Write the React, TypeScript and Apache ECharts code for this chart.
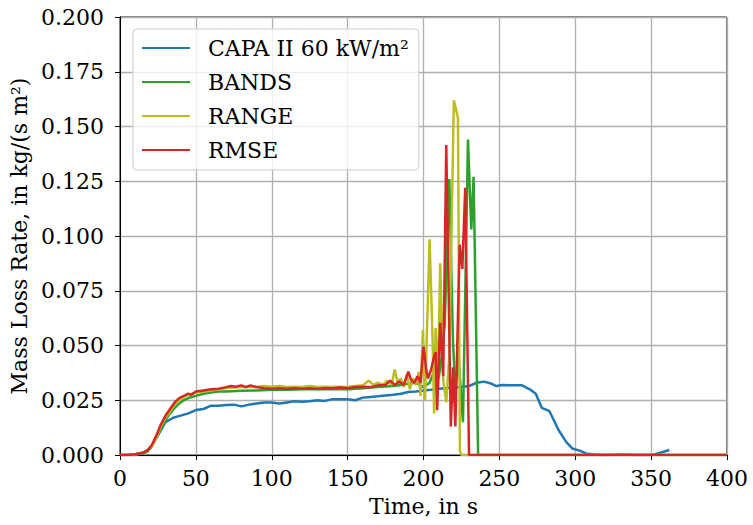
import React, { useEffect, useRef } from "react";
import * as echarts from "echarts";

const seriesNames = ["CAPA II 60 kW/m²", "BANDS", "RANGE", "RMSE"];
const seriesColors = ["#1f77b4", "#2ca02c", "#bcbd22", "#d62728"];

const xTicks = [0, 50, 100, 150, 200, 250, 300, 350, 400];
const yTicks = [0, 0.025, 0.05, 0.075, 0.1, 0.125, 0.15, 0.175, 0.2];

const capaData: [number, number][] = [
  [0, 0], [5, 0], [10, 0], [15, 0.001], [20, 0.003], [25, 0.009], [30, 0.015], [35, 0.017],
  [40, 0.018], [45, 0.019], [50, 0.0205], [55, 0.021], [60, 0.0225], [65, 0.0225], [70, 0.0228],
  [75, 0.023], [80, 0.0222], [85, 0.023], [90, 0.0235], [95, 0.024], [100, 0.024], [105, 0.0235],
  [110, 0.024], [115, 0.0245], [120, 0.0243], [125, 0.0245], [130, 0.025], [135, 0.0247],
  [140, 0.0255], [145, 0.0255], [150, 0.0255], [155, 0.025], [160, 0.0262], [165, 0.0265],
  [170, 0.0268], [175, 0.0272], [180, 0.0275], [185, 0.028], [190, 0.0288], [195, 0.029],
  [200, 0.0295], [205, 0.0298], [210, 0.0302], [215, 0.0305], [220, 0.0308], [225, 0.031],
  [230, 0.0315], [235, 0.033], [240, 0.0335], [245, 0.0325], [248, 0.0315], [252, 0.032],
  [258, 0.0318], [265, 0.0318], [270, 0.030], [274, 0.028], [278, 0.0215], [283, 0.020],
  [289, 0.0114], [294, 0.006], [298, 0.003], [303, 0.002], [307, 0.0007], [312, 0.0002],
  [320, 0], [330, 0.0002], [340, 0], [351, 0], [356, 0.001], [362, 0.0023]
];

const bandsData: [number, number][] = [
  [0, 0], [5, 0], [10, 0.0003], [15, 0.0008], [18, 0.0015], [21, 0.004], [24, 0.008], [27, 0.012],
  [30, 0.016], [33, 0.019], [36, 0.0215], [39, 0.0235], [42, 0.025], [45, 0.026], [50, 0.027],
  [55, 0.028], [60, 0.0285], [65, 0.029], [70, 0.029], [80, 0.0293], [90, 0.0295], [100, 0.0298],
  [110, 0.0298], [120, 0.030], [130, 0.030], [140, 0.030], [150, 0.030], [160, 0.0305],
  [170, 0.031], [180, 0.0315], [185, 0.032], [190, 0.0325], [195, 0.033], [200, 0.031],
  [202, 0.032], [204, 0.033], [207, 0.038], [208.4, 0.045], [210, 0.035], [212, 0.045],
  [214, 0.06], [217, 0.126], [219.4, 0.052], [221, 0.03], [223, 0.045], [226, 0.015],
  [229.3, 0.144], [231.5, 0.103], [233, 0.127], [236, 0], [400, 0]
];

const rangeData: [number, number][] = [
  [0, 0], [5, 0], [10, 0.0003], [15, 0.001], [18, 0.002], [21, 0.004], [24, 0.008], [27, 0.013],
  [30, 0.017], [33, 0.020], [36, 0.023], [39, 0.025], [42, 0.0265], [45, 0.0275], [50, 0.0285],
  [55, 0.029], [60, 0.0295], [65, 0.030], [70, 0.0305], [75, 0.0308], [80, 0.031], [85, 0.0312],
  [90, 0.031], [95, 0.0315], [100, 0.0312], [105, 0.0315], [110, 0.031], [115, 0.0312],
  [120, 0.031], [125, 0.0315], [130, 0.031], [135, 0.0312], [140, 0.031], [145, 0.0312],
  [150, 0.031], [155, 0.0315], [160, 0.0318], [164, 0.034], [167, 0.032], [170, 0.033],
  [173, 0.032], [176, 0.034], [179, 0.032], [181, 0.039], [183, 0.033], [185, 0.035],
  [187, 0.031], [189, 0.037], [191, 0.030], [193, 0.035], [195, 0.032], [197, 0.038],
  [198, 0.027], [199.6, 0.057], [201, 0.025], [204, 0.0985], [206, 0.0525], [207, 0.019],
  [208, 0.058], [209.5, 0.030], [211, 0.0875], [213, 0.034], [215, 0.024], [217, 0.045],
  [220, 0.162], [222.7, 0.154], [224, 0.002], [225, 0], [400, 0]
];

const rmseData: [number, number][] = [
  [0, 0], [5, 0], [10, 0.0003], [15, 0.001], [18, 0.002], [21, 0.0046], [24, 0.009], [27, 0.014],
  [30, 0.018], [33, 0.021], [36, 0.024], [39, 0.026], [42, 0.027], [45, 0.028], [47, 0.0275],
  [50, 0.029], [55, 0.0295], [60, 0.030], [65, 0.0303], [70, 0.031], [73, 0.0315], [76, 0.0312],
  [80, 0.0318], [83, 0.031], [86, 0.0318], [90, 0.031], [95, 0.0305], [100, 0.0303],
  [105, 0.0305], [110, 0.0303], [115, 0.0305], [120, 0.0303], [125, 0.0305], [130, 0.0303],
  [135, 0.0305], [140, 0.0305], [145, 0.0308], [150, 0.0305], [155, 0.031], [160, 0.0312],
  [165, 0.031], [170, 0.0318], [175, 0.032], [178, 0.034], [181, 0.032], [184, 0.0335],
  [187, 0.032], [190, 0.038], [192, 0.034], [194, 0.033], [196, 0.036], [198, 0.033],
  [200, 0.0495], [202, 0.038], [203, 0.035], [205, 0.039], [207, 0.045], [208, 0.047],
  [209, 0.0205], [211, 0.0605], [213, 0.036], [215, 0.1415], [218, 0.013], [219.5, 0.04],
  [221, 0.013], [223.8, 0.096], [225.6, 0.085], [227.5, 0.122], [230, 0], [400, 0]
];

const allData = [capaData, bandsData, rangeData, rmseData];

const FONT = "'DejaVu Serif', serif";

export default function App() {
  const ref = useRef<HTMLDivElement>(null);
  useEffect(() => {
    if (!ref.current) return;
    const chart = echarts.init(ref.current, undefined, { renderer: "svg" });
    chart.setOption({
      animation: false,
      backgroundColor: "#ffffff",
      grid: {
        left: 120, right: 26, top: 17, bottom: 70,
        show: true, borderColor: "#000000", borderWidth: 1, backgroundColor: "transparent",
      },
      legend: {
        data: seriesNames,
        orient: "vertical",
        left: 133, top: 29,
        itemWidth: 48, itemHeight: 2, itemGap: 10,
        padding: [7, 10, 8, 8],
        backgroundColor: "rgba(255,255,255,0.8)",
        borderColor: "#cccccc", borderWidth: 1, borderRadius: 4,
        textStyle: { fontFamily: FONT, fontSize: 22, color: "#000", lineHeight: 24, padding: [0, 0, 0, 13] },
      },
      xAxis: {
        type: "value", min: xTicks[0], max: xTicks[xTicks.length - 1], interval: 50,
        name: "Time, in s", nameLocation: "middle", nameGap: 40,
        nameTextStyle: { fontFamily: FONT, fontSize: 22, color: "#000" },
        axisLine: { show: true, lineStyle: { color: "#000", width: 1 } },
        axisTick: { show: true, inside: false, length: 5, lineStyle: { color: "#000" } },
        axisLabel: { fontFamily: FONT, fontSize: 22, color: "#000", margin: 12 },
        splitLine: { show: true, lineStyle: { color: "#b0b0b0", width: 1.3 } },
      },
      yAxis: {
        type: "value", min: yTicks[0], max: yTicks[yTicks.length - 1], interval: 0.025,
        name: "Mass Loss Rate, in kg/(s m²)", nameLocation: "middle", nameGap: 85,
        nameTextStyle: { fontFamily: FONT, fontSize: 22, color: "#000" },
        axisLine: { show: true, lineStyle: { color: "#000", width: 1 } },
        axisTick: { show: true, inside: false, length: 5, lineStyle: { color: "#000" } },
        axisLabel: { fontFamily: FONT, fontSize: 22, color: "#000", margin: 16, formatter: (v: number) => v.toFixed(3) },
        splitLine: { show: true, lineStyle: { color: "#b0b0b0", width: 1.3 } },
      },
      series: seriesNames.map((name, i) => ({
        name,
        type: "line",
        data: allData[i],
        showSymbol: false,
        symbol: "none",
        color: seriesColors[i],
        lineStyle: { color: seriesColors[i], width: 2.5 },
        z: 2 + i,
      })),
    });
    return () => chart.dispose();
  }, []);
  return <div ref={ref} style={{ position: "fixed", left: 0, top: 0, width: 753, height: 525 }} />;
}
